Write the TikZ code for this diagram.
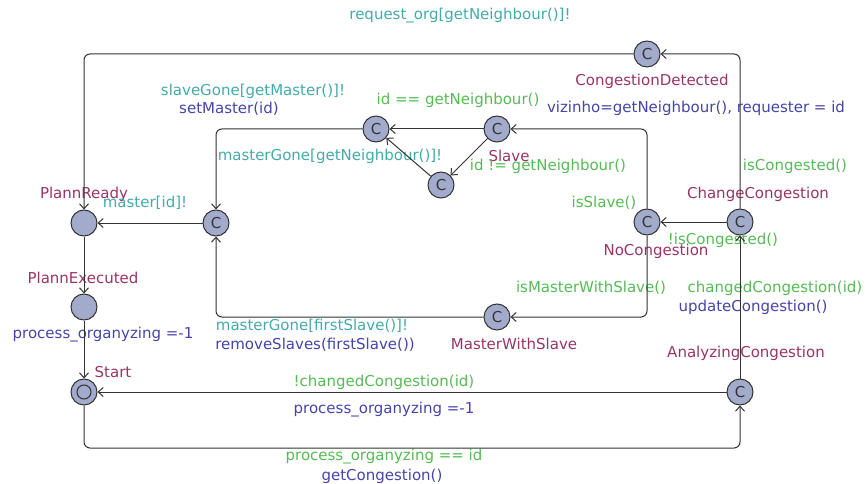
\documentclass[tikz,border=0pt]{standalone}
\usepackage{fontspec}
\setmainfont{DejaVu Sans}
\usetikzlibrary{arrows, arrows.meta, positioning}
\definecolor{locfill}{HTML}{A3ABCD}
\definecolor{namecol}{HTML}{993366}
\definecolor{synccol}{HTML}{44AAAA}
\definecolor{guardcol}{HTML}{55BB55}
\definecolor{updcol}{HTML}{4444AA}
\definecolor{edgecol}{HTML}{333333}
\tikzset{
  location/.style={
    circle,
    draw=edgecol,
    fill=locfill,
    text=edgecol,
    line width=1pt,
    minimum size=26pt,
    inner sep=0pt,
    font=\fontsize{15}{18}\selectfont
  },
  initloc/.style={
    location,
    path picture={\draw[edgecol, line width=1pt] (path picture bounding box.center) circle (7pt);}
  },
  locname/.style={text=namecol, inner sep=0pt, font=\fontsize{15}{18}\selectfont},
  guard/.style={text=guardcol, inner sep=0pt, font=\fontsize{15}{18}\selectfont},
  sync/.style={text=synccol, inner sep=0pt, font=\fontsize{15}{18}\selectfont},
  update/.style={text=updcol, inner sep=0pt, font=\fontsize{15}{18}\selectfont},
  arrow/.style={draw=edgecol, line width=1pt, ->, >={Straight Barb[length=5pt,width=9pt]}}
}
\begin{document}
\begin{tikzpicture}[x=1pt, y=-1pt, every edge/.style={arrow}]
  \useasboundingbox (0,0) rectangle (865,484);
  % locations
  \node (detected) [location] at (647,54) {C};
  \node (idnode) [location] at (376,129) {C};
  \node (slave) [location] at (497,129) {C};
  \node (lowc) [location] at (441,185) {C};
  \node (ready) [location] at (84,223) {};
  \node (masternode) [location] at (216,223) {C};
  \node (nocong) [location] at (647,222) {C};
  \node (changecong) [location] at (740,222) {C};
  \node (executed) [location] at (84,307) {};
  \node (mws) [location] at (497,317) {C};
  \node (start) [initloc] at (84,392) {};
  \node (analyzing) [location] at (740,392) {C};
  \coordinate (startlow) at (84,448);
  \coordinate (anlow) at (740,448);

  % location names
  \node (n1) [locname] at (652,81) {CongestionDetected};
  \node (n2) [locname] at (509,156) {Slave};
  \node (n3) [locname] at (84,194) {PlannReady};
  \node (n4) [locname] at (758,194) {ChangeCongestion};
  \node (n5) [locname] at (656,251) {NoCongestion};
  \node (n6) [locname] at (83,278) {PlannExecuted};
  \node (n7) [locname] at (514,344) {MasterWithSlave};
  \node (n8) [locname] at (113,372) {Start};
  \node (n9) [locname] at (746,353) {AnalyzingCongestion};

  % edge labels
  \node (l1) [sync] at (460,16) {request\_org[getNeighbour()]!};
  \node (l2) [guard] at (795,166) {isCongested()};
  \node (l3) [update] at (696,108) {vizinho=getNeighbour(), requester = id};
  \node (l4) [guard] at (458,100) {id == getNeighbour()};
  \node (l5) [guard] at (548,166) {id != getNeighbour()};
  \node (l6) [sync] at (253,91) {slaveGone[getMaster()]!};
  \node (l7) [update] at (229,109) {setMaster(id)};
  \node (l8) [sync] at (330,156) {masterGone[getNeighbour()]!};
  \node (l9) [sync] at (145,203) {master[id]!};
  \node (l10) [guard] at (604,203) {isSlave()};
  \node (l11) [guard] at (723,240) {!isCongested()};
  \node (l12) [guard] at (591,288) {isMasterWithSlave()};
  \node (l13) [guard] at (775,288) {changedCongestion(id)};
  \node (l14) [update] at (753,307) {updateCongestion()};
  \node (l15) [sync] at (312,326) {masterGone[firstSlave()]!};
  \node (l16) [update] at (315,345) {removeSlaves(firstSlave())};
  \node (l17) [update] at (103,335) {process\_organyzing =-1};
  \node (l18) [guard] at (384,382) {!changedCongestion(id)};
  \node (l19) [update] at (384,410) {process\_organyzing =-1};
  \node (l20) [guard] at (384,457) {process\_organyzing == id};
  \node (l21) [update] at (382,476) {getCongestion()};

  % transitions
  \path
  (slave) edge (idnode)
  (slave) edge (lowc)
  (lowc) edge (idnode)
  (masternode) edge (ready)
  (changecong) edge (nocong)
  (ready) edge (executed)
  (executed) edge (start)
  (analyzing) edge (start)
  (analyzing) edge (changecong)
  ;
  \draw[arrow, rounded corners=6pt] (changecong) |- (detected);
  \draw[arrow, rounded corners=6pt] (detected) -| (ready);
  \draw[arrow, rounded corners=6pt] (idnode) -| (masternode);
  \draw[arrow, rounded corners=6pt] (nocong) |- (slave);
  \draw[arrow, rounded corners=6pt] (nocong) |- (mws);
  \draw[arrow, rounded corners=6pt] (mws) -| (masternode);
  \draw[arrow, rounded corners=6pt] (start) -- (startlow) -- (anlow) -- (analyzing);
\end{tikzpicture}
\end{document}
